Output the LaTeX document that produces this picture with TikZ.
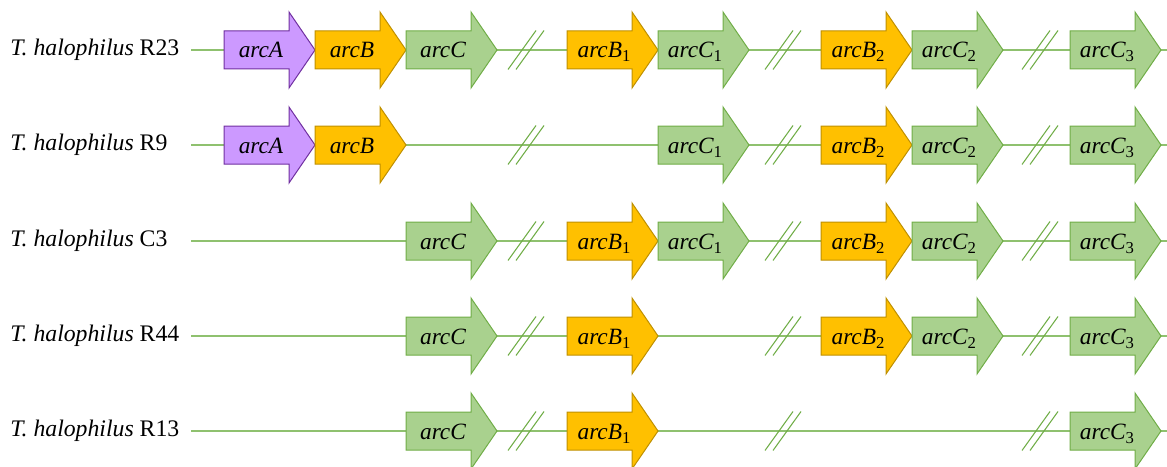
\documentclass[tikz,border=0pt]{standalone}
\usepackage{fontspec}
\setmainfont{Liberation Serif}

\definecolor{Afill}{HTML}{CC99FF}
\definecolor{Aedge}{HTML}{7030A0}
\definecolor{Bfill}{HTML}{FFC000}
\definecolor{Bedge}{HTML}{BF9000}
\definecolor{Cfill}{HTML}{A9D18E}
\definecolor{Cedge}{HTML}{70AD47}
\definecolor{chrom}{HTML}{8FC16F}

\tikzset{
  backbone/.style={draw=chrom, line width=1.1pt},
  cutmark/.style={draw=Cedge, line width=0.8pt},
  geneA/.style={fill=Afill, draw=Aedge, line width=0.75pt, line join=miter},
  geneB/.style={fill=Bfill, draw=Bedge, line width=0.75pt, line join=miter},
  geneC/.style={fill=Cfill, draw=Cedge, line width=0.75pt, line join=miter},
  genetext/.style={anchor=base, inner sep=0pt, font=\fontsize{17.5}{20}\selectfont\itshape},
  strain/.style={anchor=base west, inner sep=0pt, font=\fontsize{17.8}{20}\selectfont},
}

% subscript index of a gene copy
\newcommand{\gsub}[1]{\raisebox{-3pt}{\fontsize{12.5}{12.5}\selectfont\upshape #1}}

% gene arrow: name, x of tail, y of axis, style, label
\newcommand{\gene}[5]{%
  \draw[#4] (#2,#3-19) -- (#2+65,#3-19) -- (#2+65,#3-38) -- (#2+91,#3)
    -- (#2+65,#3+38) -- (#2+65,#3+19) -- (#2,#3+19) -- cycle;
  \node[genetext] (#1) at (#2+37,#3+8) {#5};
}

% double slash marking a gap on the chromosome: x of centre, y of axis
\newcommand{\gap}[2]{%
  \draw[cutmark] (#1-18,#2+19.5) -- (#1+10,#2-19.5);
  \draw[cutmark] (#1-10,#2+19.5) -- (#1+18,#2-19.5);
}

\begin{document}
\begin{tikzpicture}[x=0.75pt, y=-0.75pt]
\useasboundingbox (0,0) rectangle (1167,467);

% strain names and chromosome lines
\foreach \i/\yy/\nm in {1/50/R23, 2/145/R9, 3/241/C3, 4/336/R44, 5/431/R13} {
  \node[strain] (lab\i) at (10,\yy+5.5) {\textit{T. halophilus} \nm};
  \coordinate (s\i) at (191,\yy);
  \coordinate (e\i) at (1167,\yy);
  \draw[backbone] (s\i) -- (e\i);
  \gap{526}{\yy}
  \gap{783}{\yy}
  \gap{1040}{\yy}
}

% R23
\gene{r1A}{224}{50}{geneA}{arcA}
\gene{r1B}{315}{50}{geneB}{arcB}
\gene{r1C}{406}{50}{geneC}{arcC}
\gene{r1Bi}{567}{50}{geneB}{arcB\gsub{1}}
\gene{r1Ci}{658}{50}{geneC}{arcC\gsub{1}}
\gene{r1Bii}{821}{50}{geneB}{arcB\gsub{2}}
\gene{r1Cii}{912}{50}{geneC}{arcC\gsub{2}}
\gene{r1Ciii}{1070}{50}{geneC}{arcC\gsub{3}}

% R9
\gene{r2A}{224}{145}{geneA}{arcA}
\gene{r2B}{315}{145}{geneB}{arcB}
\gene{r2Ci}{658}{145}{geneC}{arcC\gsub{1}}
\gene{r2Bii}{821}{145}{geneB}{arcB\gsub{2}}
\gene{r2Cii}{912}{145}{geneC}{arcC\gsub{2}}
\gene{r2Ciii}{1070}{145}{geneC}{arcC\gsub{3}}

% C3
\gene{r3C}{406}{241}{geneC}{arcC}
\gene{r3Bi}{567}{241}{geneB}{arcB\gsub{1}}
\gene{r3Ci}{658}{241}{geneC}{arcC\gsub{1}}
\gene{r3Bii}{821}{241}{geneB}{arcB\gsub{2}}
\gene{r3Cii}{912}{241}{geneC}{arcC\gsub{2}}
\gene{r3Ciii}{1070}{241}{geneC}{arcC\gsub{3}}

% R44
\gene{r4C}{406}{336}{geneC}{arcC}
\gene{r4Bi}{567}{336}{geneB}{arcB\gsub{1}}
\gene{r4Bii}{821}{336}{geneB}{arcB\gsub{2}}
\gene{r4Cii}{912}{336}{geneC}{arcC\gsub{2}}
\gene{r4Ciii}{1070}{336}{geneC}{arcC\gsub{3}}

% R13
\gene{r5C}{406}{431}{geneC}{arcC}
\gene{r5Bi}{567}{431}{geneB}{arcB\gsub{1}}
\gene{r5Ciii}{1070}{431}{geneC}{arcC\gsub{3}}

\end{tikzpicture}
\end{document}
